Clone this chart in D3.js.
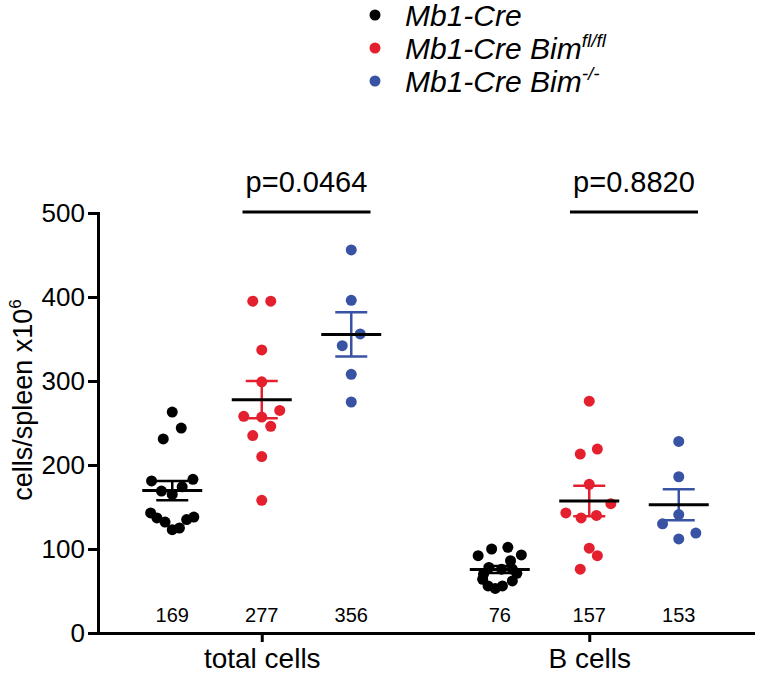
<!DOCTYPE html>
<html>
<head>
<meta charset="utf-8">
<script src="https://cdn.jsdelivr.net/npm/d3@7"></script>
<style>
  html, body { margin: 0; padding: 0; background: #fff; }
  svg { display: block; font-family: "Liberation Sans", Arial, Helvetica, sans-serif; }
</style>
</head>
<body>
<div id="chart"></div>
<script>
// ---------- data ----------
const groups = ["total cells", "B cells"];
const series = ["Mb1-Cre", "Mb1-Cre Bim fl/fl", "Mb1-Cre Bim -/-"];
const seriesColors = ["#000000", "#e5202e", "#3953a4"];

// values (cells/spleen x10^6), one array per group/series
const totalMb1Cre   = [263, 244, 231, 181, 183, 169, 174, 165, 143, 137, 132, 123, 125, 135, 138];
const totalBimFlFl  = [395, 395, 337, 299, 265, 258, 257, 246, 235, 210, 158];
const totalBimKO    = [456, 396, 356, 342, 308, 275];
const bMb1Cre       = [92, 100, 102, 93, 86, 78, 76, 64, 56, 53, 56, 62, 71, 76, 70];
const bBimFlFl      = [276, 213, 219, 177, 154, 143, 137, 140, 101, 92, 76];
const bBimKO        = [228, 186, 141, 130, 119, 112];

// horizontal scatter slot of each point within its column (column-scatter jitter)
const jitterTotalMb1Cre  = [0, 1, -1, -2.3, 2.3, -1.2, 1.1, 0, -2.4, -1.7, -0.8, 0, 0.8, 1.6, 2.4];
const jitterTotalBimFlFl = [-1, 1, 0, 0, 2, -2, 0, 1, -1, 0, 0];
const jitterTotalBimKO   = [0, 0, 1, -1, 0, 0];
const jitterBMb1Cre      = [-2.4, -0.9, 0.9, 2.4, 1.2, -1.2, 0.2, -1.9, -1.3, -0.5, 0.3, 1.4, 1.9, 1.4, -1.8];
const jitterBBimFlFl     = [0, -1, 0.9, 0, 2.4, -2.6, -0.9, 0.8, 0, 0.9, -1];
const jitterBBimKO       = [0, 0, 0, -1.8, 1.9, 0];

const meanLabels = [["169", "277", "356"], ["76", "157", "153"]];
const pValues = ["p=0.0464", "p=0.8820"];
const yTicks = [0, 100, 200, 300, 400, 500];

// ---------- assemble ----------
const columns = [
  { g: 0, s: 0, v: totalMb1Cre,  j: jitterTotalMb1Cre },
  { g: 0, s: 1, v: totalBimFlFl, j: jitterTotalBimFlFl },
  { g: 0, s: 2, v: totalBimKO,   j: jitterTotalBimKO },
  { g: 1, s: 0, v: bMb1Cre,      j: jitterBMb1Cre },
  { g: 1, s: 1, v: bBimFlFl,     j: jitterBBimFlFl },
  { g: 1, s: 2, v: bBimKO,       j: jitterBBimKO }
];
columns.forEach(c => {
  c.mean = d3.mean(c.v);
  c.sem = d3.deviation(c.v) / Math.sqrt(c.v.length);
  c.label = meanLabels[c.g][c.s];
});

// ---------- layout ----------
const W = 758, H = 675;
const x0 = 98, x1 = 753, yBottom = 633, yTop = 213;
const slot = 9, dotR = 5.5;

const svg = d3.select("#chart").append("svg").attr("width", W).attr("height", H);

const y = d3.scaleLinear().domain([0, 500]).range([yBottom, yTop]);
const xGroup = d3.scalePoint().domain(groups).range([x0, x1]).padding(0.5);
const xSeries = d3.scalePoint().domain(d3.range(series.length)).range([-89.5, 89.5]);
const colX = c => xGroup(groups[c.g]) + xSeries(c.s);

// axes
const yAxisG = svg.append("g").attr("transform", `translate(${x0},0)`)
  .call(d3.axisLeft(y).tickValues(yTicks).tickSize(10).tickSizeOuter(0).tickPadding(3));
const xAxisG = svg.append("g").attr("transform", `translate(0,${yBottom})`)
  .call(d3.axisBottom(xGroup).tickSize(9).tickSizeOuter(0).tickPadding(6));
[yAxisG, xAxisG].forEach(g => {
  g.select(".domain").attr("stroke", "#000").attr("stroke-width", 3).attr("stroke-linecap", "square");
  g.selectAll(".tick line").attr("stroke", "#000").attr("stroke-width", 3);
  g.selectAll(".tick text").attr("fill", "#000").attr("font-family", "Liberation Sans, Arial, sans-serif");
});
yAxisG.selectAll(".tick text").attr("font-size", 26);
xAxisG.selectAll(".tick text").attr("font-size", 28);

// y title
const yt = svg.append("text")
  .attr("transform", `translate(32,${(yBottom + yTop) / 2 - 23}) rotate(-90)`)
  .attr("text-anchor", "middle")
  .attr("font-size", 27)
  .attr("fill", "#000");
yt.append("tspan").text("cells/spleen x10");
yt.append("tspan").attr("font-size", 17).attr("dy", -11).text("6");

// points
columns.forEach(c => {
  svg.append("g").selectAll("circle")
    .data(c.v.map((v, i) => ({ v, j: c.j[i] })))
    .join("circle")
    .attr("cx", d => colX(c) + d.j * slot)
    .attr("cy", d => y(d.v))
    .attr("r", dotR)
    .attr("fill", seriesColors[c.s]);
});

// mean + SEM
columns.forEach(c => {
  const cx = colX(c);
  const g = svg.append("g");
  const col = seriesColors[c.s];
  g.append("line").attr("x1", cx).attr("x2", cx)
    .attr("y1", y(c.mean - c.sem)).attr("y2", y(c.mean + c.sem))
    .attr("stroke", col).attr("stroke-width", 2.5);
  [c.mean - c.sem, c.mean + c.sem].forEach(v => {
    g.append("line").attr("x1", cx - 16).attr("x2", cx + 16)
      .attr("y1", y(v)).attr("y2", y(v))
      .attr("stroke", col).attr("stroke-width", 2.5);
  });
  g.append("line").attr("x1", cx - 30).attr("x2", cx + 30)
    .attr("y1", y(c.mean)).attr("y2", y(c.mean))
    .attr("stroke", "#000").attr("stroke-width", 3);
  // mean value label above axis
  svg.append("text").attr("x", cx).attr("y", yBottom - 11)
    .attr("text-anchor", "middle").attr("font-size", 20).attr("fill", "#000")
    .text(c.label);
});

// significance bars
groups.forEach((gname, gi) => {
  const a = colX({ g: gi, s: 1 }), b = colX({ g: gi, s: 2 });
  const mid = (a + b) / 2;
  svg.append("line").attr("x1", mid - 64).attr("x2", mid + 64)
    .attr("y1", yTop - 1).attr("y2", yTop - 1)
    .attr("stroke", "#000").attr("stroke-width", 3);
  svg.append("text").attr("x", mid).attr("y", yTop - 21)
    .attr("text-anchor", "middle").attr("font-size", 29).attr("fill", "#000")
    .text(pValues[gi]);
});

// legend
const legendParts = [
  { main: "Mb1-Cre", sup: "" },
  { main: "Mb1-Cre Bim", sup: "fl/fl" },
  { main: "Mb1-Cre Bim", sup: "-/-" }
];
const lg = svg.append("g");
legendParts.forEach((p, i) => {
  const ly = 15 + i * 33;
  lg.append("circle").attr("cx", 375).attr("cy", ly).attr("r", 5.5).attr("fill", seriesColors[i]);
  const t = lg.append("text").attr("x", 405).attr("y", ly + 11)
    .attr("font-size", 30).attr("font-style", "italic").attr("fill", "#000");
  t.append("tspan").text(p.main);
  if (p.sup) t.append("tspan").attr("font-size", 19).attr("dy", -12).text(p.sup);
});
</script>
</body>
</html>
